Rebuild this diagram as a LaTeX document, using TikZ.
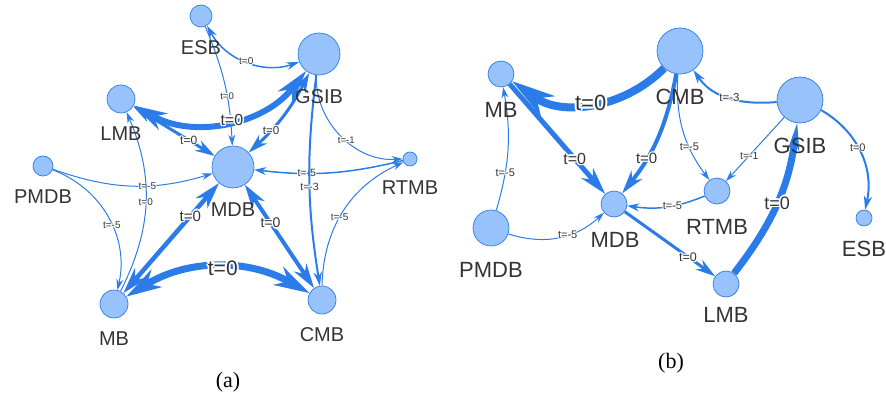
\documentclass[tikz,border=0pt]{standalone}
\usepackage{fontspec}
\setmainfont{Liberation Sans}
\newfontfamily\capfont{Liberation Serif}
\usetikzlibrary{arrows.meta}
\definecolor{eb}{HTML}{2B7CE9}
\definecolor{nf}{HTML}{97C2FC}
\definecolor{txt}{HTML}{343434}
\pgfdeclarelayer{bg}
\pgfsetlayers{bg,main}
\newcommand\myhx[3]{\makebox[0pt][l]{\hspace*{#1}\raisebox{#2}{\textcolor{white}{#3}}}}
\newcommand\myhalo[1]{\myhx{0.09em}{0pt}{#1}\myhx{-0.09em}{0pt}{#1}\myhx{0pt}{0.09em}{#1}\myhx{0pt}{-0.09em}{#1}\myhx{0.065em}{0.065em}{#1}\myhx{-0.065em}{0.065em}{#1}\myhx{0.065em}{-0.065em}{#1}\myhx{-0.065em}{-0.065em}{#1}#1}
\tikzset{
  nd/.style={circle, fill=nf, draw=eb, line width=0.7pt, inner sep=0pt, minimum size=#1},
  laba/.style={font=\fontsize{20}{20}\selectfont, text=txt, inner sep=0pt},
  labb/.style={font=\fontsize{22}{22}\selectfont, text=txt, inner sep=0pt},
  el/.style={font=\fontsize{#1}{#1}\selectfont, text=txt, inner sep=0pt},
  eone/.style n args={3}{draw=eb, line width=#1, arrows={-{Stealth[length=#2,width=#3,line width=0pt]}}},
  etwo/.style n args={3}{draw=eb, line width=#1, arrows={{Stealth[length=#2,width=#3,line width=0pt]}-{Stealth[length=#2,width=#3,line width=0pt]}}},
  captxt/.style={font=\capfont\fontsize{22}{22}\selectfont, text=black, inner sep=0pt}
}
\begin{document}
\begin{tikzpicture}[x=1pt,y=1pt]
\useasboundingbox (0,0) rectangle (886,397);
% ---------- (a) nodes
\node[nd=22pt] (aESB) at (201,381) {};
\node[nd=42pt] (aGSIB) at (319,343) {};
\node[nd=28pt] (aLMB) at (121,298) {};
\node[nd=42pt] (aMDB) at (233,230) {};
\node[nd=20pt] (aPMDB) at (43,231) {};
\node[nd=14pt] (aRTMB) at (410,238) {};
\node[nd=28pt] (aMB) at (114,93) {};
\node[nd=28pt] (aCMB) at (322,97) {};
\node[laba] (aESBt) at (201,349) {ESB};
\node[laba] (aGSIBt) at (319,300) {GSIB};
\node[laba] (aLMBt) at (121,263) {LMB};
\node[laba] (aMDBt) at (233,187) {MDB};
\node[laba] (aPMDBt) at (43,200) {PMDB};
\node[laba] (aRTMBt) at (410,209) {RTMB};
\node[laba] (aMBt) at (114,58) {MB};
\node[laba] (aCMBt) at (322,62) {CMB};
\node[captxt] (capa) at (228,15) {(a)};
% ---------- (b) nodes
\node[nd=46pt] (bCMB) at (680,346) {};
\node[nd=26pt] (bMB) at (501,323) {};
\node[nd=46pt] (bGSIB) at (800,297) {};
\node[nd=26pt] (bRTMB) at (717,206) {};
\node[nd=26pt] (bMDB) at (614,193) {};
\node[nd=36pt] (bPMDB) at (491,169) {};
\node[nd=26pt] (bLMB) at (726,113) {};
\node[nd=16pt] (bESB) at (864,179) {};
\node[labb] (bCMBt) at (680,300) {CMB};
\node[labb] (bMBt) at (501,287) {MB};
\node[labb] (bGSIBt) at (800,251) {GSIB};
\node[labb] (bRTMBt) at (717,170) {RTMB};
\node[labb] (bMDBt) at (615,157) {MDB};
\node[labb] (bLMBt) at (726,82) {LMB};
\node[labb] (bPMDBt) at (491,127) {PMDB};
\node[labb] (bESBt) at (864,148) {ESB};
\node[captxt] (capb) at (671,34) {(b)};
\begin{pgfonlayer}{bg}
% ---------- (a) edges
\draw[etwo={1.5pt}{13pt}{8pt}] (aESB) to[bend right=40] node[el=10,pos=0.5]{\myhalo{t=0}} (aGSIB);
\draw[eone={1pt}{11pt}{7pt}] (aESB) to[bend left=10] node[el=9.5,pos=0.6]{\myhalo{t=0}} (aMDB);
\draw[etwo={6pt}{34pt}{19pt}] (aLMB) to[bend right=40] node[el=16,pos=0.53]{\myhalo{t=0}} (aGSIB);
\draw[etwo={3pt}{20pt}{12pt}] (aLMB) to node[el=12,pos=0.68]{\myhalo{t=0}} (aMDB);
\draw[etwo={3pt}{20pt}{12pt}] (aGSIB) to[bend left=10] node[el=11.5,pos=0.7]{\myhalo{t=0}} (aMDB);
\draw[eone={1pt}{11pt}{7pt}] (aGSIB) to[bend right=48] node[el=9.5,pos=0.55]{\myhalo{t=-1}} (aRTMB);
\draw[eone={1.5pt}{12pt}{8pt}] (aRTMB) to[bend left=10] node[el=10.5,pos=0.66]{\myhalo{t=-5}} (aMDB);
\draw[eone={2pt}{14pt}{8.5pt}] (aGSIB) to[bend right=8] node[el=10.5,pos=0.53]{\myhalo{t=-3}} (aCMB);
\draw[eone={1pt}{11pt}{7pt}] (aCMB) to[bend left=32] node[el=10,pos=0.45]{\myhalo{t=-5}} (aRTMB);
\draw[eone={1pt}{11pt}{7pt}] (aPMDB) to[bend right=18] node[el=10,pos=0.6]{\myhalo{t=-5}} (aMDB);
\draw[eone={1pt}{11pt}{7pt}] (aPMDB) to[bend left=41] node[el=10,pos=0.56]{\myhalo{t=-5}} (aMB);
\draw[eone={1pt}{11pt}{7pt}] (aMB) to[bend right=25] node[el=10,pos=0.5]{\myhalo{t=0}} (aLMB);
\draw[etwo={4.5pt}{27pt}{16pt}] (aMB) to node[el=15,pos=0.7]{\myhalo{t=0}} (aMDB);
\draw[etwo={4pt}{25pt}{15pt}] (aMDB) to node[el=14,pos=0.37]{\myhalo{t=0}} (aCMB);
\draw[etwo={7pt}{36pt}{21pt}] (aMB) to[bend left=30] node[el=21,pos=0.53]{\myhalo{t=0}} (aCMB);
% ---------- (b) edges
\draw[eone={8pt}{44pt}{25pt}] (bCMB) to[bend left=40] node[el=22,pos=0.5]{\myhalo{t=0}} (bMB);
\draw[eone={5pt}{28pt}{16pt}] (bMB) to node[el=16,pos=0.68]{\myhalo{t=0}} (bMDB);
\draw[eone={4pt}{24pt}{14pt}] (bCMB) to[bend left=14] node[el=15,pos=0.69]{\myhalo{t=0}} (bMDB);
\draw[eone={1pt}{11pt}{7pt}] (bCMB) to[bend right=20] node[el=11,pos=0.67]{\myhalo{t=-5}} (bRTMB);
\draw[eone={2pt}{14pt}{8.5pt}] (bGSIB) to[out=185,in=-55] node[el=11.5,pos=0.5]{\myhalo{t=-3}} (bCMB);
\draw[eone={1pt}{11pt}{7pt}] (bGSIB) to node[el=10.5,pos=0.6]{\myhalo{t=-1}} (bRTMB);
\draw[eone={2pt}{14pt}{8.5pt}] (bGSIB) to[bend left=36] node[el=11,pos=0.45]{\myhalo{t=0}} (bESB);
\draw[eone={7pt}{28pt}{12pt}] (bLMB) to[bend right=15] node[el=18,pos=0.5]{\myhalo{t=0}} (bGSIB);
\draw[eone={1.5pt}{12pt}{8pt}] (bRTMB) to[bend left=15] node[el=11,pos=0.42]{\myhalo{t=-5}} (bMDB);
\draw[eone={3pt}{20pt}{12pt}] (bMDB) to node[el=12.5,pos=0.7]{\myhalo{t=0}} (bLMB);
\draw[eone={1pt}{11pt}{7pt}] (bPMDB) to[bend right=30] node[el=11,pos=0.59]{\myhalo{t=-5}} (bMDB);
\draw[eone={1pt}{11pt}{7pt}] (bPMDB) to[bend right=13] node[el=11,pos=0.3]{\myhalo{t=-5}} (bMB);
\end{pgfonlayer}
\end{tikzpicture}
\end{document}
